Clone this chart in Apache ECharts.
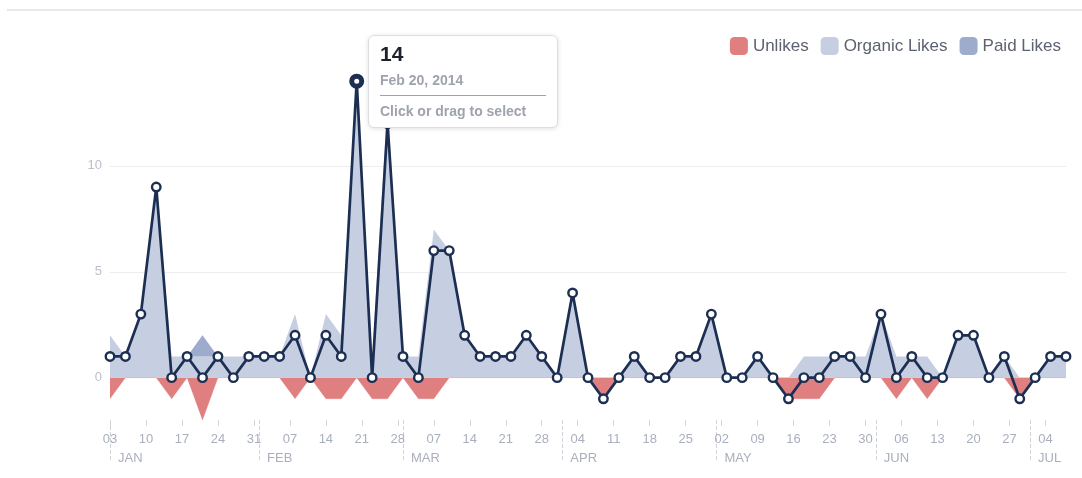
<!DOCTYPE html>
<html style="height: 100%">
<head>
    <meta charset="utf-8">
</head>
<body style="height: 100%; margin: 0; background: #fff">
    <div style="position: absolute; left: 7px; right: 0; top: 9px; height: 2px; background: #e8e8e8"></div>
    <div id="container" style="width: 1082px; height: 478px"></div>
    <script src="https://cdn.jsdelivr.net/npm/echarts@6/dist/echarts.min.js"></script>
    <script type="text/javascript">
        // one point every 3 days, starting Jan 3, 2014
        var startDate = [2014, 0, 3];
        var stepDays = 3;

        var netLikes = [1, 1, 3, 9, 0, 1, 0, 1, 0, 1, 1, 1, 2, 0, 2, 1, 14, 0, 12, 1, 0, 6, 6, 2, 1, 1, 1, 2, 1, 0, 4,
            0, -1, 0, 1, 0, 0, 1, 1, 3, 0, 0, 1, 0, -1, 0, 0, 1, 1, 0, 3, 0, 1, 0, 0, 2, 2, 0, 1, -1, 0, 1, 1];
        var unlikes = [-1, 0, 0, 0, -1, 0, -2, 0, 0, 0, 0, 0, -1, 0, -1, -1, 0, -1, -1, 0, -1, -1, 0, 0, 0, 0, 0, 0, 0, 0, 0,
            0, -1, 0, 0, 0, 0, 0, 0, 0, 0, 0, 0, 0, -1, -1, -1, 0, 0, 0, 0, -1, 0, -1, 0, 0, 0, 0, 0, -1, 0, 0, 0];
        var organicLikes = [2, 1, 3, 9, 1, 1, 1, 1, 1, 1, 1, 1, 3, 0, 3, 2, 14, 1, 13, 1, 1, 7, 6, 2, 1, 1, 1, 2, 1, 0, 4,
            0, 0, 0, 1, 0, 0, 1, 1, 3, 0, 0, 1, 0, 0, 1, 1, 1, 1, 1, 3, 1, 1, 1, 0, 2, 2, 0, 1, 0, 0, 1, 1];
        var paidLikes = [0, 0, 0, 0, 0, 0, 1, 0, 0, 0, 0, 0, 0, 0, 0, 0, 0, 0, 0, 0, 0, 0, 0, 0, 0, 0, 0, 0, 0, 0, 0,
            0, 0, 0, 0, 0, 0, 0, 0, 0, 0, 0, 0, 0, 0, 0, 0, 0, 0, 0, 0, 0, 0, 0, 0, 0, 0, 0, 0, 0, 0, 0, 0];

        var dayTickLabels = ['03', '10', '17', '24', '31', '07', '14', '21', '28', '07', '14', '21', '28', '04',
            '11', '18', '25', '02', '09', '16', '23', '30', '06', '13', '20', '27', '04'];
        var monthLabels = ['JAN', 'FEB', 'MAR', 'APR', 'MAY', 'JUN', 'JUL'];
        var monthStarts = ['2014-01-03', '2014-02-01', '2014-03-01', '2014-04-01', '2014-05-01', '2014-06-01', '2014-07-01'];
        var monthShort = ['Jan', 'Feb', 'Mar', 'Apr', 'May', 'Jun', 'Jul', 'Aug', 'Sep', 'Oct', 'Nov', 'Dec'];
        var yTicks = [0, 5, 10];
        var selectedIndex = 16;

        var DAY = 864e5;
        var t0 = Date.UTC(startDate[0], startDate[1], startDate[2]);
        function dayOffset(s) {
            var p = s.split('-');
            return Math.round((Date.UTC(+p[0], +p[1] - 1, +p[2]) - t0) / DAY);
        }
        function timeOf(i) {
            return t0 + i * stepDays * DAY;
        }
        function toPoints(arr) {
            return arr.map(function (v, i) { return [timeOf(i), v]; });
        }

        var lastDay = (netLikes.length - 1) * stepDays;
        var weekDays = dayTickLabels.map(function (l, i) { return i * 7; });
        var monthDays = monthStarts.map(dayOffset);

        var fontFamily = '"Liberation Sans", Arial, Helvetica, sans-serif';
        var navy = '#1c2f53';
        var labelGray = '#a9afbc';

        var netData = toPoints(netLikes);
        netData[selectedIndex] = {
            value: netData[selectedIndex],
            symbolSize: 10,
            itemStyle: { borderWidth: 5 }
        };

        var dom = document.getElementById('container');
        var myChart = echarts.init(dom);
        var option = {
            animation: false,
            textStyle: { fontFamily: fontFamily },
            grid: { left: 110, right: 16, top: 60, bottom: 58 },
            legend: {
                data: ['Unlikes', 'Organic Likes', 'Paid Likes'],
                right: 16,
                top: 32,
                icon: 'roundRect',
                itemWidth: 18,
                itemHeight: 18,
                itemGap: 12,
                textStyle: { fontSize: 17, color: '#5d6270', fontFamily: fontFamily }
            },
            tooltip: {
                trigger: 'item',
                triggerOn: 'none',
                alwaysShowContent: true,
                transitionDuration: 0,
                position: [368, 35],
                padding: 0,
                backgroundColor: '#fff',
                borderColor: '#dcdde1',
                borderWidth: 1,
                extraCssText: 'border-radius: 6px; box-shadow: 0 1px 5px rgba(0,0,0,0.12);',
                formatter: function (p) {
                    var d = new Date(p.value[0]);
                    var ds = monthShort[d.getUTCMonth()] + ' ' + d.getUTCDate() + ', ' + d.getUTCFullYear();
                    var gray = '#9ea3ad';
                    return '<div style="font-family:' + fontFamily.replace(/"/g, '\'') + ';width:166px;padding:6px 11px 7px 11px;font-weight:bold">' +
                        '<div style="font-size:21px;line-height:24px;color:#1d2129">' + p.value[1] + '</div>' +
                        '<div style="font-size:14px;line-height:18px;color:' + gray + ';margin-top:5px">' + ds + '</div>' +
                        '<div style="border-top:1px solid ' + gray + ';margin-top:6px"></div>' +
                        '<div style="font-size:14px;line-height:18px;color:' + gray + ';margin-top:6px">Click or drag to select</div>' +
                        '</div>';
                }
            },
            xAxis: [{
                // data axis (dates), drawn invisibly
                type: 'time',
                min: t0,
                max: timeOf(netLikes.length - 1),
                position: 'bottom',
                show: false
            }, {
                // weekly day ticks, in days since Jan 3
                type: 'value',
                min: 0,
                max: lastDay,
                position: 'bottom',
                axisLine: { show: false },
                splitLine: { show: false },
                axisTick: { customValues: weekDays, length: 6, lineStyle: { color: '#d3d6dd' } },
                axisLabel: {
                    customValues: weekDays,
                    margin: 13,
                    fontSize: 13,
                    color: labelGray,
                    formatter: function (v) { return dayTickLabels[Math.round(v / 7)]; }
                }
            }, {
                // month separators
                type: 'value',
                min: 0,
                max: lastDay,
                position: 'bottom',
                axisLine: { show: false },
                splitLine: { show: false },
                axisTick: { customValues: monthDays, length: 42, lineStyle: { color: '#cfd2d9', type: 'dashed' } },
                axisLabel: {
                    customValues: monthDays,
                    margin: 32,
                    fontSize: 13,
                    color: labelGray,
                    align: 'left',
                    padding: [0, 0, 0, 8],
                    formatter: function (v) { return monthLabels[monthDays.indexOf(Math.round(v))]; }
                }
            }],
            yAxis: {
                type: 'value',
                min: -2,
                max: 15,
                axisLine: { show: false },
                axisTick: { show: false, customValues: yTicks },
                axisLabel: { customValues: yTicks, margin: 8, fontSize: 13, color: '#bcc0c9' },
                splitLine: { lineStyle: { color: '#ededf0' } }
            },
            series: [{
                name: 'Unlikes',
                type: 'line',
                symbol: 'none',
                data: toPoints(unlikes),
                itemStyle: { color: '#e07f80' },
                lineStyle: { width: 1, color: 'rgba(224,127,128,0.3)' },
                areaStyle: { color: '#e07f80', opacity: 1 },
                silent: true,
                z: 2
            }, {
                name: 'Organic Likes',
                type: 'line',
                stack: 'likes',
                symbol: 'none',
                data: toPoints(organicLikes),
                itemStyle: { color: '#c6cee1' },
                lineStyle: { width: 0 },
                areaStyle: { color: '#c6cee1', opacity: 1 },
                silent: true,
                z: 2
            }, {
                name: 'Paid Likes',
                type: 'line',
                stack: 'likes',
                symbol: 'none',
                data: toPoints(paidLikes),
                itemStyle: { color: '#9dabcc' },
                lineStyle: { width: 0 },
                areaStyle: { color: '#9dabcc', opacity: 1 },
                silent: true,
                z: 2
            }, {
                name: 'Net Likes',
                type: 'line',
                symbol: 'circle',
                symbolSize: 8.5,
                data: netData,
                lineStyle: { color: navy, width: 2.7 },
                itemStyle: { color: '#fff', borderColor: navy, borderWidth: 2.4 },
                z: 5
            }]
        };
        myChart.setOption(option, true);
        myChart.dispatchAction({ type: 'showTip', seriesIndex: 3, dataIndex: selectedIndex });
    </script>
</body>
</html>
